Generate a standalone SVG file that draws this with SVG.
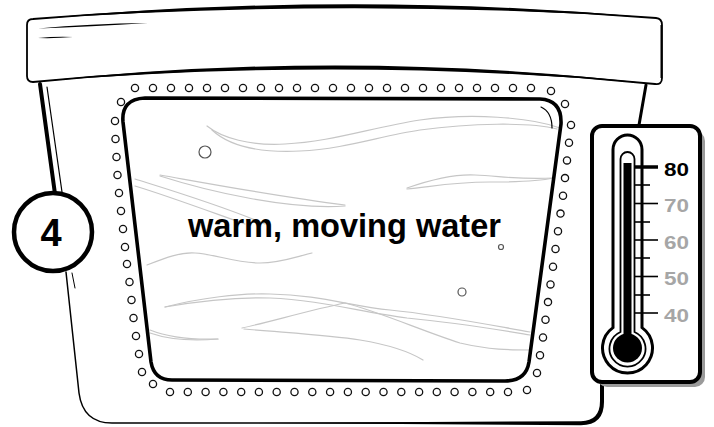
<svg xmlns="http://www.w3.org/2000/svg" width="714" height="427" viewBox="0 0 714 427">
  <style>
    .ink { fill: none; stroke: #000; stroke-linecap: round; stroke-linejoin: round; }
    .solid { fill: #000; stroke: none; }
    .dot { fill: #fff; stroke: #111; stroke-width: 1.3; }
    .streak { fill: none; stroke: #c6c6c6; stroke-width: 1.2; stroke-linecap: round; }
    .bubble { fill: #fff; stroke: #555; stroke-width: 1.2; }
    .label { font-family: "Liberation Sans", Arial, sans-serif; font-weight: bold; }
    .tick { stroke: #000; stroke-width: 1.6; }
  </style>

  <rect width="714" height="427" fill="#fff"/>

  <!-- tub body -->
  <g id="tub">
    <path class="ink" d="M40,84 L55,194" stroke-width="4"/>
    <path class="ink" d="M47,87 L62,192" stroke-width="1.2"/>
    <path class="ink" d="M72,273 L75,288" stroke-width="1"/>
    <path class="ink" d="M66,272 L79,393 Q83,423 112,423 L581,423 Q602,423 602,400 L602,383" stroke-width="1.5"/>
    <path class="solid" d="M250,423 L581,421.2 Q600,421 600,401 L600,383 L604,383 L604,402 Q604,425.2 581,425.2 Z"/>
    <path class="ink" d="M646,85 L639,125" stroke-width="3"/>
  </g>

  <!-- lid -->
  <g id="lid">
    <path d="M33,19 Q350,-6 656,18 Q662,18.5 662,25 L662,78 Q662,85 655,84 Q344,52 33,82 Q27,82 27,76 L27,25 Q27,19 33,19 Z" fill="#fff" stroke="#000" stroke-width="1.8" stroke-linejoin="round"/>
    <path class="solid" d="M33,19 Q350,-10 656,18 Q350,-2 33,19 Z"/>
    <path class="solid" d="M655,84 Q344,48 33,82 Q344,56 655,84 Z"/>
    <path class="solid" d="M662,25 L662,78 L660.5,78 L660.5,25 Z"/>
    <path class="solid" d="M38,28.5 Q90,23.5 148,23 Q90,26.5 38,28.5 Z"/>
    <path class="solid" d="M38,38 Q55,36.3 73,37 Q55,38.6 38,38 Z"/>
  </g>

  <!-- window with water -->
  <g id="window">
    <g id="water">
      <path class="streak" d="M207,126 C222,138 250,146 285,144 C330,142 370,128 420,120 C470,113 530,117 560,128"/>
      <path class="streak" d="M212,130 C228,145 258,153 300,151 C345,149 380,136 420,130 C470,123 530,122 557,129"/>
      <path class="streak" d="M160,175 C200,182 280,197 345,205"/>
      <path class="streak" d="M160,176 C210,192 290,210 345,206"/>
      <path class="streak" d="M135,179 C170,190 220,205 265,224"/>
      <path class="streak" d="M135,186 C165,195 200,208 245,224"/>
      <path class="streak" d="M407,188 C430,180 455,174 475,175 C500,176 520,180 553,178"/>
      <path class="streak" d="M407,189 C430,187 450,182 490,182 C520,182 540,181 553,178"/>
      <path class="streak" d="M147,265 C165,258 180,252 195,253 C215,254 235,263 260,263 C280,263 295,257 312,253"/>
      <path class="streak" d="M165,307 C200,298 240,293 270,294 C320,295 350,306 390,310 C440,315 490,325 530,332"/>
      <path class="streak" d="M165,307 C205,300 240,297 270,298 C320,300 360,312 407,318 C460,323 500,330 530,335"/>
      <path class="streak" d="M242,328 C270,322 310,310 345,303 C380,312 420,330 460,343 C490,350 510,350 530,350"/>
      <path class="streak" d="M244,329 C290,333 330,335 360,340 C390,345 410,352 423,360"/>
      <path class="streak" d="M150,330 C165,336 190,340 218,339"/>
      <path class="streak" d="M150,333 C170,340 195,341 218,339"/>
      <circle class="bubble" cx="205" cy="152" r="6"/>
      <circle class="bubble" cx="462" cy="292" r="4"/>
      <circle class="bubble" cx="501" cy="247" r="2.5"/>
    </g>
    <path class="ink" d="M145,98 L540,99 Q562,100 561,124 L529,362 Q526,381 505,381 L172,380 Q154,380 151,362 L123,122 Q121,99 145,98 Z" stroke-width="3.6"/>
    <path class="ink" d="M541,107 Q552,112 552,128" stroke-width="1.2"/>
  </g>

  <!-- rivets around the window -->
  <g id="rivets">
    <circle class="dot" cx="135" cy="88" r="3.6"/><circle class="dot" cx="153" cy="88" r="3.6"/>
    <circle class="dot" cx="171" cy="88" r="3.6"/><circle class="dot" cx="189" cy="88" r="3.6"/>
    <circle class="dot" cx="207" cy="88" r="3.6"/><circle class="dot" cx="225" cy="88" r="3.6"/>
    <circle class="dot" cx="243" cy="88" r="3.6"/><circle class="dot" cx="261" cy="88" r="3.6"/>
    <circle class="dot" cx="279" cy="88" r="3.6"/><circle class="dot" cx="297" cy="88" r="3.6"/>
    <circle class="dot" cx="315" cy="88" r="3.6"/><circle class="dot" cx="333" cy="88" r="3.6"/>
    <circle class="dot" cx="351" cy="88" r="3.6"/><circle class="dot" cx="369" cy="88" r="3.6"/>
    <circle class="dot" cx="387" cy="88" r="3.6"/><circle class="dot" cx="405" cy="88" r="3.6"/>
    <circle class="dot" cx="423" cy="88" r="3.6"/><circle class="dot" cx="441" cy="88" r="3.6"/>
    <circle class="dot" cx="459" cy="88" r="3.6"/><circle class="dot" cx="477" cy="88" r="3.6"/>
    <circle class="dot" cx="495" cy="88" r="3.6"/><circle class="dot" cx="513" cy="88" r="3.6"/>
    <circle class="dot" cx="531" cy="88" r="3.6"/>
    <circle class="dot" cx="551" cy="91" r="3.6"/><circle class="dot" cx="565" cy="104" r="3.6"/>
    <circle class="dot" cx="571" cy="125" r="3.6"/><circle class="dot" cx="569" cy="142.7" r="3.6"/>
    <circle class="dot" cx="567" cy="160.4" r="3.6"/><circle class="dot" cx="565" cy="178.1" r="3.6"/>
    <circle class="dot" cx="563" cy="195.8" r="3.6"/><circle class="dot" cx="560.5" cy="213.6" r="3.6"/>
    <circle class="dot" cx="558" cy="231.3" r="3.6"/><circle class="dot" cx="555.5" cy="249" r="3.6"/>
    <circle class="dot" cx="553" cy="266.7" r="3.6"/><circle class="dot" cx="550.5" cy="284.4" r="3.6"/>
    <circle class="dot" cx="548" cy="302.1" r="3.6"/><circle class="dot" cx="545.5" cy="319.8" r="3.6"/>
    <circle class="dot" cx="543" cy="337.5" r="3.6"/><circle class="dot" cx="540" cy="355.3" r="3.6"/>
    <circle class="dot" cx="537" cy="373" r="3.6"/>
    <circle class="dot" cx="527" cy="390" r="3.6"/>
    <circle class="dot" cx="508" cy="392" r="3.6"/><circle class="dot" cx="490.2" cy="392" r="3.6"/>
    <circle class="dot" cx="472.4" cy="392" r="3.6"/><circle class="dot" cx="454.6" cy="392" r="3.6"/>
    <circle class="dot" cx="436.8" cy="392" r="3.6"/><circle class="dot" cx="419.1" cy="392" r="3.6"/>
    <circle class="dot" cx="401.3" cy="392" r="3.6"/><circle class="dot" cx="383.5" cy="392" r="3.6"/>
    <circle class="dot" cx="365.7" cy="392" r="3.6"/><circle class="dot" cx="347.9" cy="392" r="3.6"/>
    <circle class="dot" cx="330.1" cy="392" r="3.6"/><circle class="dot" cx="312.3" cy="392" r="3.6"/>
    <circle class="dot" cx="294.5" cy="392" r="3.6"/><circle class="dot" cx="276.7" cy="392" r="3.6"/>
    <circle class="dot" cx="258.9" cy="392" r="3.6"/><circle class="dot" cx="241.2" cy="392" r="3.6"/>
    <circle class="dot" cx="223.4" cy="392" r="3.6"/><circle class="dot" cx="205.6" cy="392" r="3.6"/>
    <circle class="dot" cx="187.8" cy="392" r="3.6"/><circle class="dot" cx="170" cy="392" r="3.6"/>
    <circle class="dot" cx="153" cy="384" r="3.6"/>
    <circle class="dot" cx="142" cy="372" r="3.6"/><circle class="dot" cx="139" cy="354" r="3.6"/>
    <circle class="dot" cx="136" cy="336" r="3.6"/><circle class="dot" cx="133.5" cy="318" r="3.6"/>
    <circle class="dot" cx="131.5" cy="300" r="3.6"/><circle class="dot" cx="129.5" cy="282" r="3.6"/>
    <circle class="dot" cx="127" cy="264" r="3.6"/><circle class="dot" cx="125" cy="247" r="3.6"/>
    <circle class="dot" cx="123" cy="229" r="3.6"/><circle class="dot" cx="121" cy="211" r="3.6"/>
    <circle class="dot" cx="119" cy="193" r="3.6"/><circle class="dot" cx="117.5" cy="175" r="3.6"/>
    <circle class="dot" cx="116.5" cy="157" r="3.6"/><circle class="dot" cx="115.5" cy="139" r="3.6"/>
    <circle class="dot" cx="115" cy="121" r="3.6"/>
    <circle class="dot" cx="121" cy="102" r="3.6"/>
  </g>

  <!-- caption inside the window -->
  <g id="caption">
    <text class="label" x="188" y="237" font-size="33" textLength="313" lengthAdjust="spacingAndGlyphs" fill="#000">warm, moving water</text>
  </g>

  <!-- step badge -->
  <g id="badge">
    <circle cx="53" cy="232" r="39" fill="#fff" stroke="#000" stroke-width="4.5"/>
    <text class="label" x="51" y="246" font-size="38" text-anchor="middle" fill="#000">4</text>
  </g>

  <!-- thermometer panel -->
  <g id="thermometer">
    <rect x="597" y="131" width="108" height="256" rx="10" fill="#9a9a9a"/>
    <rect x="592" y="126" width="108" height="256" rx="10" fill="#fff" stroke="#000" stroke-width="4"/>
    <path d="M613,149.5 A14.5,14.5 0 0 1 642,149.5 L642,327.6 A25,25 0 1 1 613,327.6 Z" fill="#fff" stroke="#000" stroke-width="3"/>
    <path d="M620.5,159 A7,7 0 0 1 634.5,159 L634.5,332 A18,18 0 1 1 620.5,332 Z" fill="#fff" stroke="#000" stroke-width="1.8"/>
    <rect x="623.5" y="163" width="8" height="180" fill="#000"/>
    <circle cx="627.5" cy="348" r="14.5" fill="#000"/>
    <line x1="635" y1="167" x2="658" y2="167" stroke="#000" stroke-width="3.5"/>
    <line class="tick" x1="635" y1="185" x2="650" y2="185"/>
    <line class="tick" x1="635" y1="203.5" x2="658" y2="203.5"/>
    <line class="tick" x1="635" y1="222" x2="650" y2="222"/>
    <line class="tick" x1="635" y1="240" x2="658" y2="240"/>
    <line class="tick" x1="635" y1="258" x2="650" y2="258"/>
    <line class="tick" x1="635" y1="276.5" x2="658" y2="276.5"/>
    <line class="tick" x1="635" y1="295" x2="650" y2="295"/>
    <line class="tick" x1="635" y1="313" x2="658" y2="313"/>
    <text class="label" x="664" y="175.5" font-size="18" textLength="25" lengthAdjust="spacingAndGlyphs" fill="#000">80</text>
    <text class="label" x="664" y="212" font-size="18" textLength="25" lengthAdjust="spacingAndGlyphs" fill="#a6a6a6">70</text>
    <text class="label" x="664" y="248.5" font-size="18" textLength="25" lengthAdjust="spacingAndGlyphs" fill="#a6a6a6">60</text>
    <text class="label" x="664" y="285" font-size="18" textLength="25" lengthAdjust="spacingAndGlyphs" fill="#a6a6a6">50</text>
    <text class="label" x="664" y="321.5" font-size="18" textLength="25" lengthAdjust="spacingAndGlyphs" fill="#a6a6a6">40</text>
  </g>
</svg>
